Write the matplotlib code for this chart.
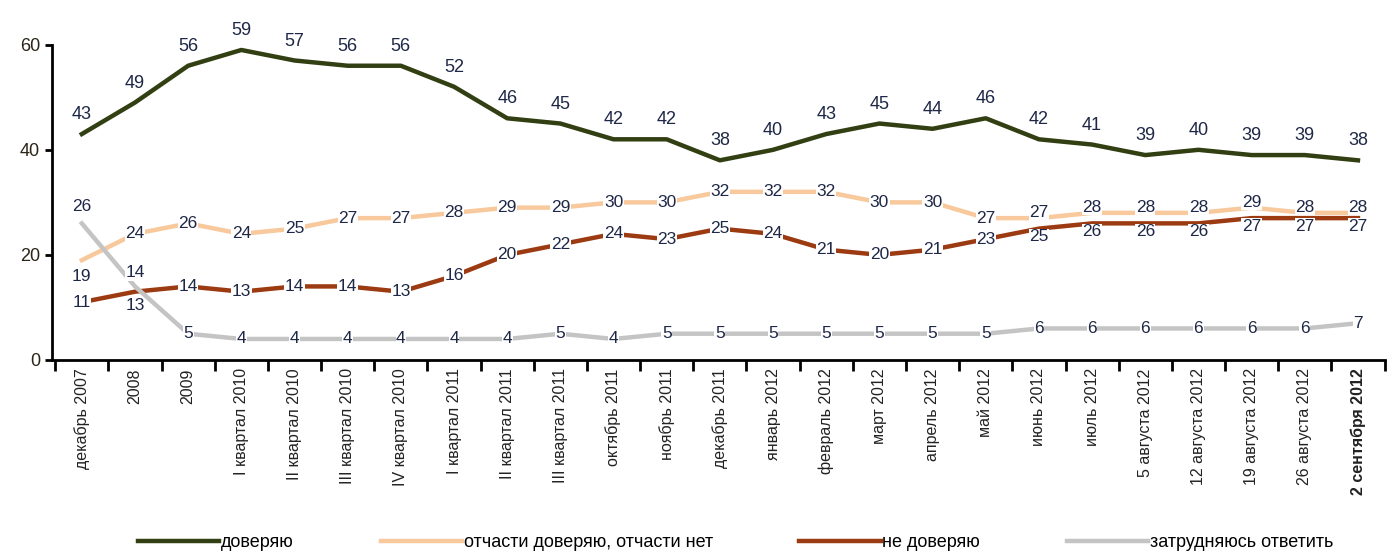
import matplotlib
matplotlib.use("Agg")
import matplotlib.pyplot as plt
import numpy as np

plt.rcParams['font.family'] = ['Liberation Sans Narrow', 'Liberation Sans', 'DejaVu Sans']

periods = ["декабрь 2007", "2008", "2009", "I квартал 2010", "II квартал 2010",
           "III квартал 2010", "IV квартал 2010", "I квартал 2011", "II квартал 2011",
           "III квартал 2011", "октябрь 2011", "ноябрь 2011", "декабрь 2011",
           "январь 2012", "февраль 2012", "март 2012", "апрель 2012", "май 2012",
           "июнь 2012", "июль 2012", "5 августа 2012", "12 августа 2012",
           "19 августа 2012", "26 августа 2012", "2 сентября 2012"]

trust = [43, 49, 56, 59, 57, 56, 56, 52, 46, 45, 42, 42, 38, 40, 43, 45, 44, 46,
         42, 41, 39, 40, 39, 39, 38]
partly = [19, 24, 26, 24, 25, 27, 27, 28, 29, 29, 30, 30, 32, 32, 32, 30, 30, 27,
          27, 28, 28, 28, 29, 28, 28]
distrust = [11, 13, 14, 13, 14, 14, 13, 16, 20, 22, 24, 23, 25, 24, 21, 20, 21, 23,
            25, 26, 26, 26, 27, 27, 27]
unsure = [26, 14, 5, 4, 4, 4, 4, 4, 4, 5, 4, 5, 5, 5, 5, 5, 5, 5, 6, 6, 6, 6, 6, 6, 7]

series = [
    ("доверяю", trust, "#323f12"),
    ("отчасти доверяю, отчасти нет", partly, "#f8c99c"),
    ("не доверяю", distrust, "#9c3a12"),
    ("затрудняюсь ответить", unsure, "#c4c4c4"),
]

label_color = "#1e2746"

fig = plt.figure(figsize=(13.88, 5.59), dpi=100)
ax = fig.add_axes([0.0375, 0.356, 0.96, 0.564])

x = np.arange(len(periods))
for name, vals, col in series:
    ax.plot(x, vals, color=col, lw=3.2, label=name, zorder=2)

# data labels
for i, v in enumerate(trust):
    ax.annotate(str(v), (i, v), xytext=(0, 14), textcoords="offset points",
                ha="center", va="center", fontsize=13, color=label_color, zorder=4)

def offset(key, i):
    special = {("p", 0): -12, ("u", 0): 12, ("u", 1): 10, ("d", 1): -10}
    if (key, i) in special:
        return special[(key, i)]
    if i >= 18 and key == "p":
        return 4
    if i >= 18 and key == "d":
        return -6
    return 0

for key, vals in (("p", partly), ("d", distrust), ("u", unsure)):
    for i, v in enumerate(vals):
        ax.annotate(str(v), (i, v), xytext=(0, offset(key, i)), textcoords="offset points",
                    ha="center", va="center", fontsize=12.5, color=label_color,
                    bbox=dict(boxstyle="square,pad=0.03", fc="white", ec="none"),
                    zorder=4)

ax.set_xlim(-0.56, 24.4)
ax.set_ylim(0, 60)
ax.set_yticks([0, 20, 40, 60])
ax.tick_params(axis="y", labelsize=13, labelcolor="#2b2418", width=2, length=5)

ax.set_xticks(x)
ax.set_xticklabels(periods, rotation=90, fontsize=11.5, color="#222222")
ax.tick_params(axis="x", length=0, pad=6)
ax.set_xticks(np.arange(-0.5, len(periods)), minor=True)
ax.tick_params(axis="x", which="minor", length=8, width=2)
ax.get_xticklabels()[-1].set_fontweight("bold")

for s in ("top", "right"):
    ax.spines[s].set_visible(False)
for s in ("left", "bottom"):
    ax.spines[s].set_linewidth(2)

fig.legend(loc="lower center", bbox_to_anchor=(0.53, -0.015), ncol=4, frameon=False,
           fontsize=13, handlelength=4.5, handletextpad=0.1, columnspacing=4.8)

fig.savefig("out.png", dpi=100)
